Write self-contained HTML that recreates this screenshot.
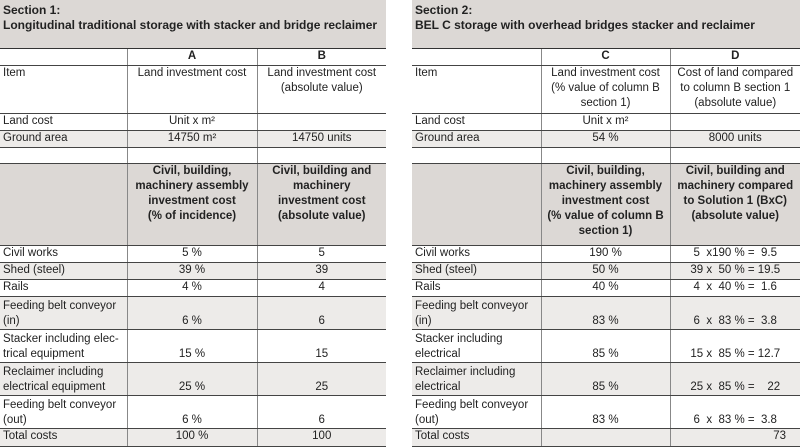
<!DOCTYPE html>
<html><head><meta charset="utf-8"><style>
body{margin:0;width:800px;height:446px;background:#fff;font-family:"Liberation Sans",Arial,sans-serif;font-size:11.5px;color:#222;position:relative;overflow:hidden}
table{position:absolute;top:0;border-collapse:collapse;table-layout:fixed}
td{padding:0 3px;border-bottom:1px solid #444;line-height:15px;vertical-align:top}
td+td{border-left:1px solid #888;text-align:center}
.sec td{background:#dcd8d5;font-weight:bold;font-size:12px;padding-top:3px;border-bottom:1.5px solid #333}
.g td{background:#edebe9}
.h td{background:#dcd8d5;font-weight:bold;vertical-align:top}
.b td{vertical-align:bottom}
.let td{font-weight:bold}
.c{text-align:center}
</style></head><body>
<table style="left:0;width:386px">
<colgroup><col style="width:127px"><col style="width:130px"><col style="width:129px"></colgroup>
<tr class="sec" style="height:48px"><td colspan="3">Section 1:<br>Longitudinal traditional storage with stacker and bridge reclaimer</td></tr>
<tr class="let" style="height:17px"><td></td><td>A</td><td>B</td></tr>
<tr style="height:48px"><td>Item</td><td>Land investment cost</td><td>Land investment cost<br>(absolute value)</td></tr>
<tr style="height:17px"><td>Land cost</td><td>Unit x m²</td><td></td></tr>
<tr class="g" style="height:17px"><td>Ground area</td><td>14750 m²</td><td>14750 units</td></tr>
<tr style="height:16px"><td></td><td></td><td></td></tr>
<tr class="h" style="height:82px"><td></td><td>Civil, building,<br>machinery assembly<br>investment cost<br>(% of incidence)</td><td>Civil, building and<br>machinery<br>investment cost<br>(absolute value)</td></tr>
<tr style="height:17px"><td>Civil works</td><td>5 %</td><td>5</td></tr>
<tr class="g" style="height:17px"><td>Shed (steel)</td><td>39 %</td><td>39</td></tr>
<tr style="height:17px"><td>Rails</td><td>4 %</td><td>4</td></tr>
<tr class="g b" style="height:33px"><td>Feeding belt conveyor<br>(in)</td><td>6 %</td><td>6</td></tr>
<tr class="b" style="height:33px"><td>Stacker including elec-<br>trical equipment</td><td>15 %</td><td>15</td></tr>
<tr class="g b" style="height:33px"><td>Reclaimer including<br>electrical equipment</td><td>25 %</td><td>25</td></tr>
<tr class="b" style="height:33px"><td>Feeding belt conveyor<br>(out)</td><td>6 %</td><td>6</td></tr>
<tr class="g" style="height:18px"><td>Total costs</td><td>100 %</td><td>100</td></tr>
</table>
<table style="left:412px;width:388px">
<colgroup><col style="width:129px"><col style="width:129px"><col style="width:130px"></colgroup>
<tr class="sec" style="height:48px"><td colspan="3">Section 2:<br>BEL C storage with overhead bridges stacker and reclaimer</td></tr>
<tr class="let" style="height:17px"><td></td><td>C</td><td>D</td></tr>
<tr style="height:48px"><td>Item</td><td>Land investment cost<br>(% value of column B<br>section 1)</td><td>Cost of land compared<br>to column B section 1<br>(absolute value)</td></tr>
<tr style="height:17px"><td>Land cost</td><td>Unit x m²</td><td></td></tr>
<tr class="g" style="height:17px"><td>Ground area</td><td>54 %</td><td>8000 units</td></tr>
<tr style="height:16px"><td></td><td></td><td></td></tr>
<tr class="h" style="height:82px"><td></td><td>Civil, building,<br>machinery assembly<br>investment cost<br>(% value of column B<br>section 1)</td><td>Civil, building and<br>machinery compared<br>to Solution 1 (BxC)<br>(absolute value)</td></tr>
<tr style="height:17px"><td>Civil works</td><td>190 %</td><td style="white-space:pre">5  x190 % =  9.5</td></tr>
<tr class="g" style="height:17px"><td>Shed (steel)</td><td>50 %</td><td style="white-space:pre">39 x  50 % = 19.5</td></tr>
<tr style="height:17px"><td>Rails</td><td>40 %</td><td style="white-space:pre">4  x  40 % =  1.6</td></tr>
<tr class="g b" style="height:33px"><td>Feeding belt conveyor<br>(in)</td><td>83 %</td><td style="white-space:pre">6  x  83 % =  3.8</td></tr>
<tr class="b" style="height:33px"><td>Stacker including<br>electrical</td><td>85 %</td><td style="white-space:pre">15 x  85 % = 12.7</td></tr>
<tr class="g b" style="height:33px"><td>Reclaimer including<br>electrical</td><td>85 %</td><td style="white-space:pre">25 x  85 % =    22</td></tr>
<tr class="b" style="height:33px"><td>Feeding belt conveyor<br>(out)</td><td>83 %</td><td style="white-space:pre">6  x  83 % =  3.8</td></tr>
<tr class="g" style="height:18px"><td>Total costs</td><td></td><td style="text-align:right;padding-right:14px">73</td></tr>
</table>
</body></html>
